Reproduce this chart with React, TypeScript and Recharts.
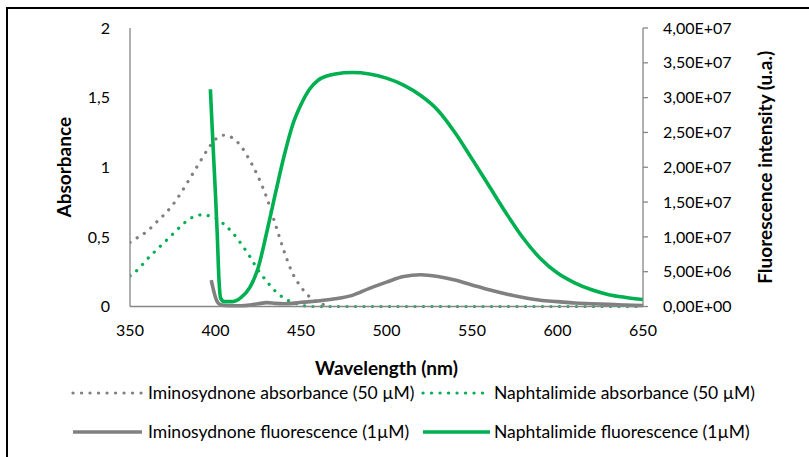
import React from 'react';
import { ComposedChart, Line, XAxis, YAxis, Legend } from 'recharts';

const xTicks = [350, 400, 450, 500, 550, 600, 650];
const absTicks = [0, 0.5, 1, 1.5, 2];
const fluoTicks = [0, 5e6, 1e7, 1.5e7, 2e7, 2.5e7, 3e7, 3.5e7, 4e7];

const seriesNames = [
  'Iminosydnone absorbance (50 µM)',
  'Naphtalimide absorbance (50 µM)',
  'Iminosydnone fluorescence (1µM)',
  'Naphtalimide fluorescence (1µM)',
];

const imiAbsWl = [350, 355, 360, 365, 370, 375, 380, 385, 390, 395, 400, 405, 410, 415, 420, 425, 430, 435, 440, 445, 450, 455, 460, 464];
const imiAbsVal = [0.46, 0.5, 0.54, 0.6, 0.66, 0.73, 0.82, 0.92, 1.02, 1.12, 1.2, 1.23, 1.21, 1.15, 1.05, 0.93, 0.78, 0.59, 0.4, 0.24, 0.14, 0.07, 0.03, 0.01];

const napAbsWl = [350, 355, 360, 365, 370, 375, 380, 385, 390, 393, 395, 400, 405, 410, 415, 420, 425, 430, 435, 440, 445, 450, 455, 500, 550, 600, 650];
const napAbsVal = [0.22, 0.27, 0.34, 0.4, 0.46, 0.52, 0.58, 0.63, 0.655, 0.66, 0.655, 0.635, 0.59, 0.53, 0.45, 0.36, 0.26, 0.18, 0.11, 0.06, 0.03, 0.01, 0, 0, 0, 0, 0];

const imiFluoWl = [397.5, 399, 400, 401, 402, 405, 410, 415, 420, 425, 430, 435, 440, 445, 450, 460, 470, 480, 490, 500, 510, 520, 530, 540, 550, 560, 570, 580, 590, 600, 610, 620, 630, 640, 650];
const imiFluoVal = [3.8e6, 2.2e6, 1.3e6, 7e5, 4e5, 1.5e5, 1e5, 1e5, 2e5, 4e5, 5.5e5, 4.5e5, 4e5, 4.5e5, 6e5, 8e5, 1.1e6, 1.6e6, 2.6e6, 3.5e6, 4.3e6, 4.55e6, 4.3e6, 3.8e6, 3.1e6, 2.4e6, 1.8e6, 1.3e6, 9e5, 7e5, 5e5, 4e5, 3e5, 2e5, 1.5e5];

const napFluoWl = [397, 398, 399, 400, 401, 402, 403, 405, 410, 415, 420, 425, 430, 435, 440, 445, 450, 455, 460, 465, 470, 480, 490, 500, 510, 520, 530, 540, 550, 560, 570, 580, 590, 600, 610, 620, 630, 640, 650];
const napFluoVal = [3.12e7, 2.6e7, 2.1e7, 1.6e7, 1.05e7, 4e6, 1.2e6, 7e5, 7e5, 1.3e6, 2.7e6, 5.6e6, 1.07e7, 1.62e7, 2.15e7, 2.6e7, 2.9e7, 3.12e7, 3.25e7, 3.31e7, 3.34e7, 3.36e7, 3.34e7, 3.28e7, 3.18e7, 3.03e7, 2.82e7, 2.5e7, 2.12e7, 1.73e7, 1.34e7, 9.8e6, 6.9e6, 4.8e6, 3.4e6, 2.4e6, 1.7e6, 1.3e6, 1e6];

const zip = (xs: number[], ys: number[]) => xs.map((x, i) => ({ x, y: ys[i] }));
const imiAbsData = zip(imiAbsWl, imiAbsVal);
const napAbsData = zip(napAbsWl, napAbsVal);
const imiFluoData = zip(imiFluoWl, imiFluoVal);
const napFluoData = zip(napFluoWl, napFluoVal);

const GRAY = '#808080';
const GREEN = '#00B050';
const AXIS = '#868686';
const FONT = 'Lato, "Liberation Sans", sans-serif';
const DOTS = '0.1 8.4';

const fmtAbs = (v: number) => String(v).replace('.', ',');
const fmtFluo = (v: number) => {
  if (v === 0) return '0,00E+00';
  const e = Math.floor(Math.log10(v) + 1e-9);
  const m = v / Math.pow(10, e);
  return m.toFixed(2).replace('.', ',') + 'E+' + String(e).padStart(2, '0');
};

const legendItems = [
  { name: seriesNames[0], color: GRAY, dotted: true, lx: 73, lw: 69, tx: 148, cy: 17.7 },
  { name: seriesNames[1], color: GREEN, dotted: true, lx: 423, lw: 67, tx: 494, cy: 17.7 },
  { name: seriesNames[2], color: GRAY, dotted: false, lx: 73, lw: 69, tx: 148, cy: 56.7 },
  { name: seriesNames[3], color: GREEN, dotted: false, lx: 423, lw: 67, tx: 494, cy: 56.7 },
];

const LegendContent = () => (
  <div style={{ position: 'relative', width: 809, height: 80, fontFamily: FONT }}>
    {legendItems.map((it) => (
      <React.Fragment key={it.name}>
        <svg
          width={it.lw + 4}
          height={8}
          style={{ position: 'absolute', left: it.lx - 2, top: it.cy - 4 }}
        >
          <line
            x1={2}
            x2={it.lw + 2}
            y1={4}
            y2={4}
            stroke={it.color}
            strokeWidth={it.dotted ? 3.2 : 3.6}
            strokeDasharray={it.dotted ? DOTS : undefined}
            strokeLinecap={it.dotted ? 'round' : 'butt'}
          />
        </svg>
        <div
          style={{
            position: 'absolute',
            left: it.tx,
            top: it.cy - 12,
            height: 24,
            lineHeight: '24px',
            fontSize: 17.5,
            color: '#000',
            whiteSpace: 'nowrap',
          }}
        >
          {it.name}
        </div>
      </React.Fragment>
    ))}
  </div>
);

export default function App() {
  return (
    <div style={{ position: 'absolute', left: 0, top: 0, width: 809, height: 457, background: '#fff', overflow: 'hidden' }}>
      <div
        style={{
          position: 'absolute',
          left: 6,
          top: 7,
          width: 820,
          height: 470,
          borderTop: '2px solid #000',
          borderLeft: '2px solid #000',
          boxSizing: 'border-box',
        }}
      />
      <div style={{ position: 'absolute', left: 0, top: 0 }}>
        <ComposedChart
          width={809}
          height={457}
          margin={{ top: 28, right: 36, left: 0, bottom: 120.5 }}
          style={{ fontFamily: FONT }}
        >
          <XAxis
            dataKey="x"
            type="number"
            domain={[350, 650]}
            ticks={xTicks}
            allowDataOverflow
            height={30}
            tickLine={false}
            tickSize={0}
            tickMargin={18.5}
            axisLine={{ stroke: AXIS, strokeWidth: 1.3 }}
            tick={{ fontSize: 16, fill: '#000', fontFamily: FONT }}
            label={{
              value: 'Wavelength (nm)',
              position: 'bottom',
              offset: 25,
              style: { fontSize: 19, fontWeight: 700, fill: '#000', fontFamily: FONT },
            }}
          />
          <YAxis
            yAxisId="left"
            orientation="left"
            type="number"
            domain={[0, 2]}
            ticks={absTicks}
            width={130}
            tickLine={false}
            tickSize={0}
            tickMargin={20}
            tickFormatter={fmtAbs}
            axisLine={{ stroke: AXIS, strokeWidth: 1.3 }}
            tick={{ fontSize: 16, fill: '#000', fontFamily: FONT }}
            label={{
              value: 'Absorbance',
              angle: -90,
              position: 'insideLeft',
              offset: 64,
              style: { textAnchor: 'middle', fontSize: 19, fontWeight: 700, fill: '#000', fontFamily: FONT },
            }}
          />
          <YAxis
            yAxisId="right"
            orientation="right"
            type="number"
            domain={[0, 4e7]}
            ticks={fluoTicks}
            width={130}
            tickLine={{ stroke: AXIS, strokeWidth: 1.3 }}
            tickSize={5}
            tickMargin={15}
            tickFormatter={fmtFluo}
            axisLine={{ stroke: AXIS, strokeWidth: 1.3 }}
            tick={{ fontSize: 16, fill: '#000', fontFamily: FONT }}
            label={{
              value: 'Fluorescence intensity (u.a.)',
              angle: -90,
              position: 'insideRight',
              offset: 8,
              style: { textAnchor: 'middle', fontSize: 19, fontWeight: 700, fill: '#000', fontFamily: FONT },
            }}
          />
          <Legend
            layout="horizontal"
            verticalAlign="middle"
            align="center"
            wrapperStyle={{ top: 375, left: 0, width: 809, height: 80 }}
            content={() => <LegendContent />}
          />
          <Line
            data={imiAbsData}
            dataKey="y"
            name={seriesNames[0]}
            yAxisId="left"
            type="monotone"
            stroke={GRAY}
            strokeWidth={3.2}
            strokeDasharray={DOTS}
            strokeLinecap="round"
            dot={false}
            activeDot={false}
            isAnimationActive={false}
          />
          <Line
            data={napAbsData}
            dataKey="y"
            name={seriesNames[1]}
            yAxisId="left"
            type="monotone"
            stroke={GREEN}
            strokeWidth={3.2}
            strokeDasharray={DOTS}
            strokeLinecap="round"
            dot={false}
            activeDot={false}
            isAnimationActive={false}
          />
          <Line
            data={imiFluoData}
            dataKey="y"
            name={seriesNames[2]}
            yAxisId="right"
            type="monotone"
            stroke={GRAY}
            strokeWidth={3.6}
            dot={false}
            activeDot={false}
            isAnimationActive={false}
          />
          <Line
            data={napFluoData}
            dataKey="y"
            name={seriesNames[3]}
            yAxisId="right"
            type="monotone"
            stroke={GREEN}
            strokeWidth={3.6}
            dot={false}
            activeDot={false}
            isAnimationActive={false}
          />
        </ComposedChart>
      </div>
    </div>
  );
}
